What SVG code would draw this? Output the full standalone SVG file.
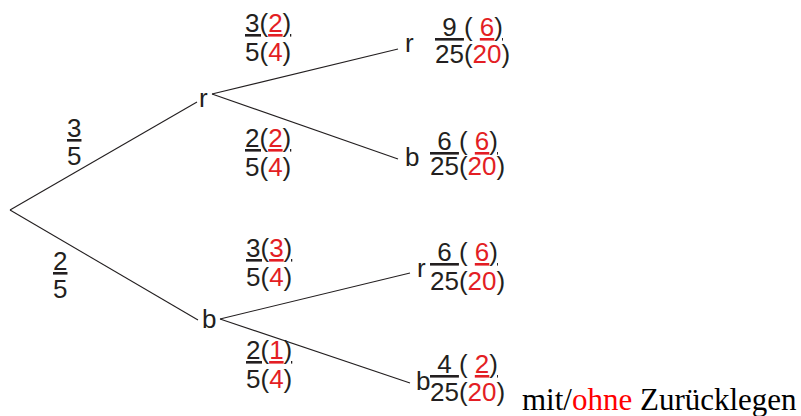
<svg xmlns="http://www.w3.org/2000/svg" width="801" height="416" viewBox="0 0 801 416">
<style>
text{font-family:"Liberation Sans",Arial,sans-serif;font-size:26px;fill:#231f20}
.red{fill:#e31e24}
.u{text-decoration:underline}
.edge{stroke:#231f20;stroke-width:1.1;fill:none}
.foot{font-family:"Liberation Serif","Times New Roman",serif;font-size:31px;fill:#000}
</style>
<rect width="801" height="416" fill="#fff"/>
<g id="connectors">
<line class="edge" x1="10" y1="210" x2="197" y2="102"/>
<line class="edge" x1="10" y1="210" x2="198" y2="320"/>
<line class="edge" x1="212" y1="94" x2="398" y2="49"/>
<line class="edge" x1="212" y1="94" x2="398" y2="159"/>
<line class="edge" x1="220" y1="319" x2="410" y2="273"/>
<line class="edge" x1="220" y1="319" x2="410" y2="383"/>
</g>
<g id="root-labels">
<text x="67" y="137"><tspan class="u">3</tspan></text>
<text x="67" y="165">5</text>
<text x="53" y="270"><tspan class="u">2</tspan></text>
<text x="53" y="298">5</text>
</g>
<g id="node-r">
<text x="199" y="107">r</text>
</g>
<g id="node-b">
<text x="202" y="328">b</text>
</g>
<g id="edge-rr">
<text x="245" y="32"><tspan class="u">3(</tspan><tspan class="u red">2</tspan><tspan class="u">)</tspan></text>
<text x="245" y="61">5(<tspan class="red">4</tspan>)</text>
</g>
<g id="edge-rb">
<text x="245" y="147"><tspan class="u">2(</tspan><tspan class="u red">2</tspan><tspan class="u">)</tspan></text>
<text x="245" y="176">5(<tspan class="red">4</tspan>)</text>
</g>
<g id="edge-br">
<text x="246" y="257"><tspan class="u">3(</tspan><tspan class="u red">3</tspan><tspan class="u">)</tspan></text>
<text x="246" y="286">5(<tspan class="red">4</tspan>)</text>
</g>
<g id="edge-bb">
<text x="246" y="359"><tspan class="u">2(</tspan><tspan class="u red">1</tspan><tspan class="u">)</tspan></text>
<text x="246" y="388">5(<tspan class="red">4</tspan>)</text>
</g>
<g id="leaf-rr">
<text x="405" y="52">r</text>
<text x="435" y="36" xml:space="preserve"><tspan class="u"> 9 </tspan>( <tspan class="u red">6</tspan><tspan class="u">)</tspan></text>
<text x="435" y="63">25(<tspan class="red">20</tspan>)</text>
</g>
<g id="leaf-rb">
<text x="405" y="166">b</text>
<text x="430" y="150" xml:space="preserve"><tspan class="u"> 6 </tspan>( <tspan class="u red">6</tspan><tspan class="u">)</tspan></text>
<text x="430" y="175">25(<tspan class="red">20</tspan>)</text>
</g>
<g id="leaf-br">
<text x="417" y="277">r</text>
<text x="430" y="261" xml:space="preserve"><tspan class="u"> 6 </tspan>( <tspan class="u red">6</tspan><tspan class="u">)</tspan></text>
<text x="430" y="290">25(<tspan class="red">20</tspan>)</text>
</g>
<g id="leaf-bb">
<text x="416" y="390">b</text>
<text x="430" y="373" xml:space="preserve"><tspan class="u"> 4 </tspan>( <tspan class="u red">2</tspan><tspan class="u">)</tspan></text>
<text x="430" y="401">25(<tspan class="red">20</tspan>)</text>
</g>
<g id="legend">
<text class="foot" x="522" y="410">mit/<tspan fill="#ff0000">ohne</tspan> Zurücklegen</text>
</g>
</svg>
